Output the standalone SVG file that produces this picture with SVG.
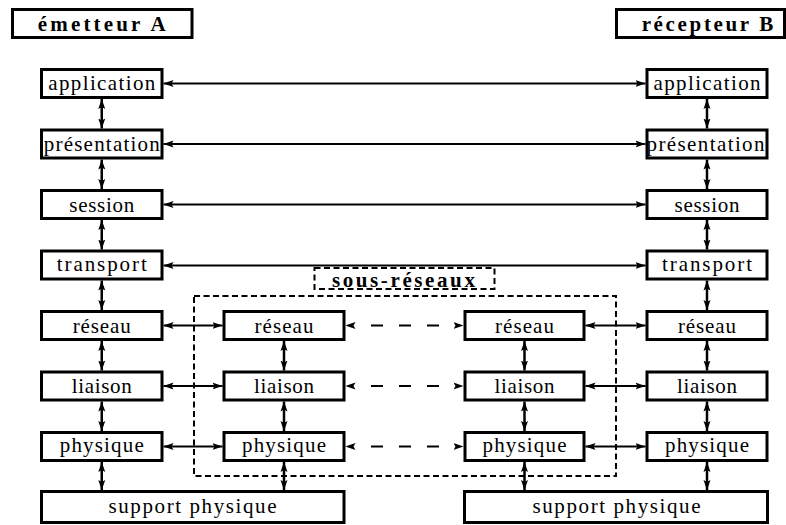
<svg xmlns="http://www.w3.org/2000/svg" width="786" height="525" viewBox="0 0 786 525" font-family="'Liberation Serif', 'Times New Roman', 'DejaVu Serif', serif">
<style>
.box{fill:#fff;stroke:#000;stroke-width:3}
text{font-family:'Liberation Serif','Times New Roman','DejaVu Serif',serif}
.t{font-size:21px;fill:#000;text-anchor:middle}
.b{font-size:21px;font-weight:bold;fill:#000;text-anchor:middle}
.h{stroke:#000;stroke-width:2;fill:none;marker-start:url(#ah);marker-end:url(#ah)}
.v{stroke:#000;stroke-width:2.5;fill:none;marker-start:url(#ah);marker-end:url(#ah)}
.d{stroke-dasharray:0 25.5 12 16 12 16 12 24.5}
.dash{fill:none;stroke:#000;stroke-width:2;stroke-dasharray:6 3.5}
</style>
<defs>
<marker id="ah" viewBox="0 0 10 8" refX="10" refY="4" markerWidth="10" markerHeight="8" markerUnits="userSpaceOnUse" orient="auto-start-reverse">
<path d="M0,0.5 L10,4 L0,7.5 L2,4 Z" fill="#000"/>
</marker>
</defs>
<rect width="786" height="525" fill="#fff"/>

<g id="sous-reseaux">
<rect class="dash" x="194" y="296" width="422" height="180"/>
<rect class="dash" x="314.5" y="268" width="180" height="21" fill="#fff"/>
<text class="b" x="403.4" y="286.5" textLength="143" lengthAdjust="spacing">sous-réseaux</text>
</g>

<g id="connectors">
<path class="h" d="M163.5,83.5 H645.5"/>
<path class="h" d="M163.5,144 H645.5"/>
<path class="h" d="M163.5,204.5 H645.5"/>
<path class="h" d="M163.5,265.5 H645.5"/>
<path class="h" d="M163.5,325.5 H222.5"/>
<path class="h d" d="M345.5,325.5 H463.5"/>
<path class="h" d="M585.5,325.5 H645.5"/>
<path class="h" d="M163.5,386 H222.5"/>
<path class="h d" d="M345.5,386 H463.5"/>
<path class="h" d="M585.5,386 H645.5"/>
<path class="h" d="M163.5,446.5 H222.5"/>
<path class="h d" d="M345.5,446.5 H463.5"/>
<path class="h" d="M585.5,446.5 H645.5"/>
<path class="v" d="M101.75,99 V128.5"/>
<path class="v" d="M101.75,159.5 V189"/>
<path class="v" d="M101.75,220 V249.5"/>
<path class="v" d="M101.75,280.5 V310"/>
<path class="v" d="M101.75,341 V370.5"/>
<path class="v" d="M101.75,401.5 V431"/>
<path class="v" d="M101.75,462 V490"/>
<path class="v" d="M707,99 V128.5"/>
<path class="v" d="M707,159.5 V189"/>
<path class="v" d="M707,220 V249.5"/>
<path class="v" d="M707,280.5 V310"/>
<path class="v" d="M707,341 V370.5"/>
<path class="v" d="M707,401.5 V431"/>
<path class="v" d="M707,462 V490"/>
<path class="v" d="M284,341 V370.5"/>
<path class="v" d="M284,401.5 V431"/>
<path class="v" d="M284,462 V490"/>
<path class="v" d="M524.5,341 V370.5"/>
<path class="v" d="M524.5,401.5 V431"/>
<path class="v" d="M524.5,462 V490"/>
</g>

<g id="emetteur-A"><rect class="box" x="12.5" y="9.5" width="179.5" height="28"/><text class="b" x="101.7" y="30.5" textLength="128" lengthAdjust="spacing">émetteur A</text></g>
<g id="recepteur-B"><rect class="box" x="616.5" y="9.5" width="168" height="28"/><text class="b" x="707.5" y="30.5" textLength="131.7" lengthAdjust="spacing">récepteur B</text></g>

<g id="A-application"><rect class="box" x="41.5" y="69.5" width="120.5" height="28"/><text class="t" x="101.75" y="90" textLength="107" lengthAdjust="spacing">application</text></g>
<g id="A-presentation"><rect class="box" x="41.5" y="130" width="120.5" height="28"/><text class="t" x="101.75" y="150.5" textLength="116" lengthAdjust="spacing">présentation</text></g>
<g id="A-session"><rect class="box" x="41.5" y="190.5" width="120.5" height="28"/><text class="t" x="101.75" y="211.5" textLength="65" lengthAdjust="spacing">session</text></g>
<g id="A-transport"><rect class="box" x="41.5" y="251" width="120.5" height="28"/><text class="t" x="101.75" y="270.5" textLength="90" lengthAdjust="spacing">transport</text></g>
<g id="A-reseau"><rect class="box" x="41.5" y="311.5" width="120.5" height="28"/><text class="t" x="101.75" y="332.5" textLength="58" lengthAdjust="spacing">réseau</text></g>
<g id="A-liaison"><rect class="box" x="41.5" y="372" width="120.5" height="28"/><text class="t" x="101.75" y="393" textLength="60" lengthAdjust="spacing">liaison</text></g>
<g id="A-physique"><rect class="box" x="41.5" y="432.5" width="120.5" height="28"/><text class="t" x="101.75" y="452" textLength="84" lengthAdjust="spacing">physique</text></g>

<g id="R1-reseau"><rect class="box" x="224" y="311.5" width="120" height="28"/><text class="t" x="284" y="332.5" textLength="59" lengthAdjust="spacing">réseau</text></g>
<g id="R1-liaison"><rect class="box" x="224" y="372" width="120" height="28"/><text class="t" x="284" y="393" textLength="60" lengthAdjust="spacing">liaison</text></g>
<g id="R1-physique"><rect class="box" x="224" y="432.5" width="120" height="28"/><text class="t" x="284" y="452" textLength="84" lengthAdjust="spacing">physique</text></g>

<g id="R2-reseau"><rect class="box" x="465" y="311.5" width="119" height="28"/><text class="t" x="524.5" y="332.5" textLength="59" lengthAdjust="spacing">réseau</text></g>
<g id="R2-liaison"><rect class="box" x="465" y="372" width="119" height="28"/><text class="t" x="524.5" y="393" textLength="60" lengthAdjust="spacing">liaison</text></g>
<g id="R2-physique"><rect class="box" x="465" y="432.5" width="119" height="28"/><text class="t" x="524.5" y="452" textLength="84" lengthAdjust="spacing">physique</text></g>

<g id="B-application"><rect class="box" x="647" y="69.5" width="120" height="28"/><text class="t" x="707" y="90" textLength="107" lengthAdjust="spacing">application</text></g>
<g id="B-presentation"><rect class="box" x="647" y="130" width="120" height="28"/><text class="t" x="705.5" y="150.5" textLength="118" lengthAdjust="spacing">présentation</text></g>
<g id="B-session"><rect class="box" x="647" y="190.5" width="120" height="28"/><text class="t" x="707" y="211.5" textLength="65" lengthAdjust="spacing">session</text></g>
<g id="B-transport"><rect class="box" x="647" y="251" width="120" height="28"/><text class="t" x="707" y="270.5" textLength="90" lengthAdjust="spacing">transport</text></g>
<g id="B-reseau"><rect class="box" x="647" y="311.5" width="120" height="28"/><text class="t" x="707" y="332.5" textLength="58" lengthAdjust="spacing">réseau</text></g>
<g id="B-liaison"><rect class="box" x="647" y="372" width="120" height="28"/><text class="t" x="707" y="393" textLength="60" lengthAdjust="spacing">liaison</text></g>
<g id="B-physique"><rect class="box" x="647" y="432.5" width="120" height="28"/><text class="t" x="707" y="452" textLength="84" lengthAdjust="spacing">physique</text></g>

<g id="support-A"><rect class="box" x="41.5" y="491.5" width="302.5" height="31"/><text class="t" x="192.5" y="512.5" textLength="168" lengthAdjust="spacing">support physique</text></g>
<g id="support-B"><rect class="box" x="464.5" y="491.5" width="303" height="31"/><text class="t" x="616.5" y="512.5" textLength="168" lengthAdjust="spacing">support physique</text></g>
</svg>
